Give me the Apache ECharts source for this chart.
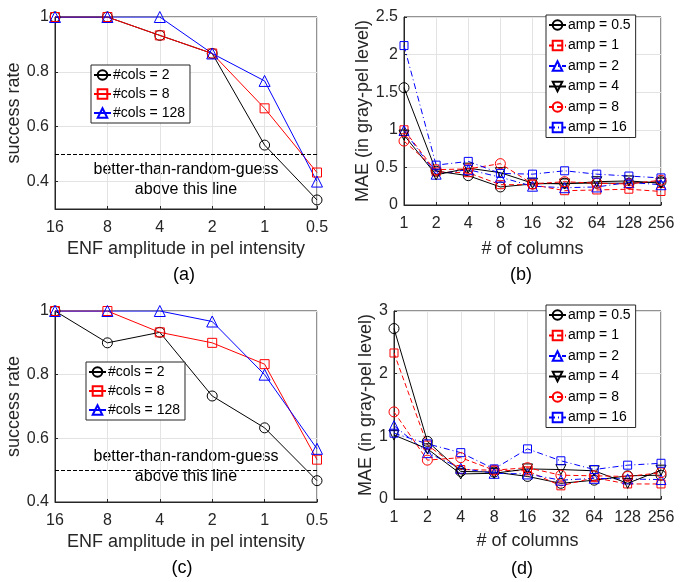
<!DOCTYPE html>
<html><head><meta charset="utf-8">
<script src="https://cdn.jsdelivr.net/npm/echarts@6/dist/echarts.min.js"></script>
<style>html,body{margin:0;padding:0;background:#fff}#c{width:688px;height:582px}</style>
</head><body><div id="c"></div>
<script>
// ---- data ----
const ampCats = ['16', '8', '4', '2', '1', '0.5'];
const colCats = ['1', '2', '4', '8', '16', '32', '64', '128', '256'];
const colsNames = ['#cols = 2', '#cols = 8', '#cols = 128'];
const ampNames = ['amp = 0.5', 'amp = 1', 'amp = 2', 'amp = 4', 'amp = 8', 'amp = 16'];
const randomGuess = 0.5;

// panel (a)
const aCols2   = [1, 1, 0.933, 0.867, 0.533, 0.333];
const aCols8   = [1, 1, 0.933, 0.867, 0.667, 0.433];
const aCols128 = [1, 1, 1, 0.867, 0.767, 0.4];
// panel (c)
const cCols2   = [1, 0.9, 0.933, 0.733, 0.633, 0.467];
const cCols8   = [1, 1, 0.933, 0.9, 0.833, 0.533];
const cCols128 = [1, 1, 1, 0.967, 0.8, 0.567];
// panel (b)
const bAmp05 = [1.56, 0.45, 0.39, 0.24, 0.28, 0.29, 0.29, 0.29, 0.31];
const bAmp1  = [1.00, 0.44, 0.43, 0.27, 0.27, 0.19, 0.20, 0.21, 0.18];
const bAmp2  = [0.99, 0.41, 0.47, 0.37, 0.25, 0.23, 0.24, 0.30, 0.27];
const bAmp4  = [0.93, 0.40, 0.49, 0.43, 0.29, 0.28, 0.31, 0.32, 0.29];
const bAmp8  = [0.85, 0.47, 0.48, 0.55, 0.28, 0.31, 0.29, 0.28, 0.33];
const bAmp16 = [2.12, 0.53, 0.58, 0.42, 0.41, 0.455, 0.41, 0.385, 0.36];
// panel (d)
const dAmp05 = [2.72, 0.92, 0.44, 0.43, 0.36, 0.25, 0.30, 0.37, 0.38];
const dAmp1  = [2.33, 0.86, 0.47, 0.46, 0.45, 0.21, 0.34, 0.24, 0.24];
const dAmp2  = [1.17, 0.74, 0.49, 0.41, 0.40, 0.30, 0.33, 0.32, 0.31];
const dAmp4  = [1.02, 0.80, 0.40, 0.41, 0.48, 0.47, 0.45, 0.25, 0.46];
const dAmp8  = [1.39, 0.62, 0.66, 0.46, 0.50, 0.38, 0.37, 0.36, 0.42];
const dAmp16 = [1.05, 0.88, 0.74, 0.48, 0.80, 0.61, 0.47, 0.54, 0.57];

// ---- styles ----
const FONT = 'Liberation Sans, Arial, Helvetica, sans-serif';
const AX = '#262626';
const GRIDC = '#e3e3e3';
const DASH = [5, 3];
const DASHDOT = [6, 3, 1, 3];
const colsStyles = [
  { color: '#000000', symbol: 'circle', size: 10, rot: 0, type: 'solid' },
  { color: '#ff0000', symbol: 'rect', size: 9, rot: 0, type: 'solid' },
  { color: '#0000ff', symbol: 'triangle', size: 11, rot: 0, type: 'solid' }
];
const ampStyles = [
  { color: '#000000', symbol: 'circle', size: 10, rot: 0, type: 'solid' },
  { color: '#ff0000', symbol: 'rect', size: 8, rot: 0, type: DASH },
  { color: '#0000ff', symbol: 'triangle', size: 10, rot: 0, type: DASHDOT },
  { color: '#000000', symbol: 'triangle', size: 10, rot: 180, type: 'solid' },
  { color: '#ff0000', symbol: 'circle', size: 10, rot: 0, type: DASH },
  { color: '#0000ff', symbol: 'rect', size: 8, rot: 0, type: DASHDOT }
];

function mk(name, data, idx, st, extra) {
  const s = {
    type: 'line', name: name, data: data,
    xAxisIndex: idx, yAxisIndex: idx,
    symbol: st.symbol, symbolSize: st.size, symbolRotate: st.rot,
    showAllSymbol: true,
    lineStyle: { color: st.color, width: 1, type: st.type },
    itemStyle: { color: 'rgba(0,0,0,0)', borderColor: st.color, borderWidth: 1 },
    emphasis: { disabled: true },
    animation: false
  };
  return Object.assign(s, extra || {});
}

const guessLine = {
  markLine: {
    silent: true, symbol: 'none', label: { show: false },
    lineStyle: { color: '#000', type: [4, 2], width: 1 },
    data: [{ yAxis: randomGuess }]
  }
};

const series = [];
[aCols2, aCols8, aCols128].forEach((d, i) => series.push(mk(colsNames[i], d, 0, colsStyles[i], i === 0 ? guessLine : null)));
[bAmp05, bAmp1, bAmp2, bAmp4, bAmp8, bAmp16].forEach((d, i) => series.push(mk(ampNames[i], d, 1, ampStyles[i])));
[cCols2, cCols8, cCols128].forEach((d, i) => series.push(mk(colsNames[i], d, 2, colsStyles[i], i === 0 ? guessLine : null)));
[dAmp05, dAmp1, dAmp2, dAmp4, dAmp8, dAmp16].forEach((d, i) => series.push(mk(ampNames[i], d, 3, ampStyles[i])));

const gridBox = { show: true, borderColor: AX, borderWidth: 1, backgroundColor: '#fff' };
const grids = [
  Object.assign({ left: 55, top: 17, width: 262, height: 192 }, gridBox),
  Object.assign({ left: 404, top: 17, width: 257, height: 188 }, gridBox),
  Object.assign({ left: 55, top: 311, width: 262, height: 191 }, gridBox),
  Object.assign({ left: 394, top: 311, width: 267, height: 188 }, gridBox)
];

function xAx(gi, cats, name, gap) {
  return {
    type: 'category', gridIndex: gi, data: cats, boundaryGap: false,
    name: name, nameLocation: 'middle', nameGap: gap,
    nameTextStyle: { fontFamily: FONT, fontSize: 18, color: AX },
    axisLine: { lineStyle: { color: AX, width: 1 } },
    axisTick: { show: true, inside: true, length: 3, alignWithLabel: true, lineStyle: { color: AX } },
    axisLabel: { fontFamily: FONT, fontSize: 16, color: AX, margin: 11, interval: 0 },
    splitLine: { show: true, lineStyle: { color: GRIDC, width: 1 } }
  };
}
function yAx(gi, opt, name, gap) {
  return Object.assign({
    type: 'value', gridIndex: gi,
    name: name, nameLocation: 'middle', nameGap: gap,
    nameTextStyle: { fontFamily: FONT, fontSize: 18, color: AX },
    axisLine: { show: true, lineStyle: { color: AX, width: 1 } },
    axisTick: { show: true, inside: true, length: 3, lineStyle: { color: AX } },
    axisLabel: { fontFamily: FONT, fontSize: 16, color: AX, margin: 6 },
    splitLine: { show: true, lineStyle: { color: GRIDC, width: 1 } }
  }, opt);
}

const successTicks = [0.4, 0.6, 0.8, 1];

const yAxes = [
  yAx(0, { min: 0.3, max: 1,
    axisLabel: { fontFamily: FONT, fontSize: 16, color: AX, margin: 6, customValues: successTicks },
    axisTick: { show: true, inside: true, length: 3, lineStyle: { color: AX }, customValues: successTicks }
  }, 'success rate', 24),
  yAx(1, { min: 0, max: 2.5, interval: 0.5 }, 'MAE (in gray-pel level)', 23),
  yAx(2, { min: 0.4, max: 1, interval: 0.2 }, 'success rate', 24),
  yAx(3, { min: 0, max: 3, interval: 1 }, 'MAE (in gray-pel level)', 16)
];

function lg(names, left, top, gap) {
  return {
    data: names, orient: 'vertical', left: left, top: top, align: 'left',
    itemWidth: 17, itemHeight: 12, itemGap: gap,
    padding: [3, 5, 3, 2],
    backgroundColor: '#fff', borderColor: AX, borderWidth: 1, borderRadius: 0,
    textStyle: { fontFamily: FONT, fontSize: 14, color: '#000', padding: [0, 0, 0, -3] },
    selectedMode: false, z: 10
  };
}

const option = {
  backgroundColor: '#fff',
  animation: false,
  grid: grids,
  xAxis: [
    xAx(0, ampCats, 'ENF amplitude in pel intensity', 31),
    xAx(1, colCats, '# of columns', 35),
    xAx(2, ampCats, 'ENF amplitude in pel intensity', 31),
    xAx(3, colCats, '# of columns', 33)
  ],
  yAxis: yAxes,
  legend: [
    lg(colsNames, 91, 65, 5),
    lg(ampNames, 546, 15, 6.5),
    lg(colsNames, 86, 362, 5),
    lg(ampNames, 546, 305, 6.5)
  ],
  graphic: [
    { type: 'text', x: 186, y: 170, style: { text: 'better-than-random-guess', fontFamily: FONT, fontSize: 16, fill: '#000', align: 'center', verticalAlign: 'middle' } },
    { type: 'text', x: 186, y: 190, style: { text: 'above this line', fontFamily: FONT, fontSize: 16, fill: '#000', align: 'center', verticalAlign: 'middle' } },
    { type: 'text', x: 186, y: 457, style: { text: 'better-than-random-guess', fontFamily: FONT, fontSize: 16, fill: '#000', align: 'center', verticalAlign: 'middle' } },
    { type: 'text', x: 186, y: 477, style: { text: 'above this line', fontFamily: FONT, fontSize: 16, fill: '#000', align: 'center', verticalAlign: 'middle' } },
    { type: 'text', x: 184, y: 275, style: { text: '(a)', fontFamily: FONT, fontSize: 18, fill: '#000', align: 'center', verticalAlign: 'middle' } },
    { type: 'text', x: 521, y: 275, style: { text: '(b)', fontFamily: FONT, fontSize: 18, fill: '#000', align: 'center', verticalAlign: 'middle' } },
    { type: 'text', x: 182, y: 568, style: { text: '(c)', fontFamily: FONT, fontSize: 18, fill: '#000', align: 'center', verticalAlign: 'middle' } },
    { type: 'text', x: 522, y: 569, style: { text: '(d)', fontFamily: FONT, fontSize: 18, fill: '#000', align: 'center', verticalAlign: 'middle' } }
  ],
  series: series
};

const chart = echarts.init(document.getElementById('c'), null, { renderer: 'canvas' });
chart.setOption(option);
</script>
</body></html>
